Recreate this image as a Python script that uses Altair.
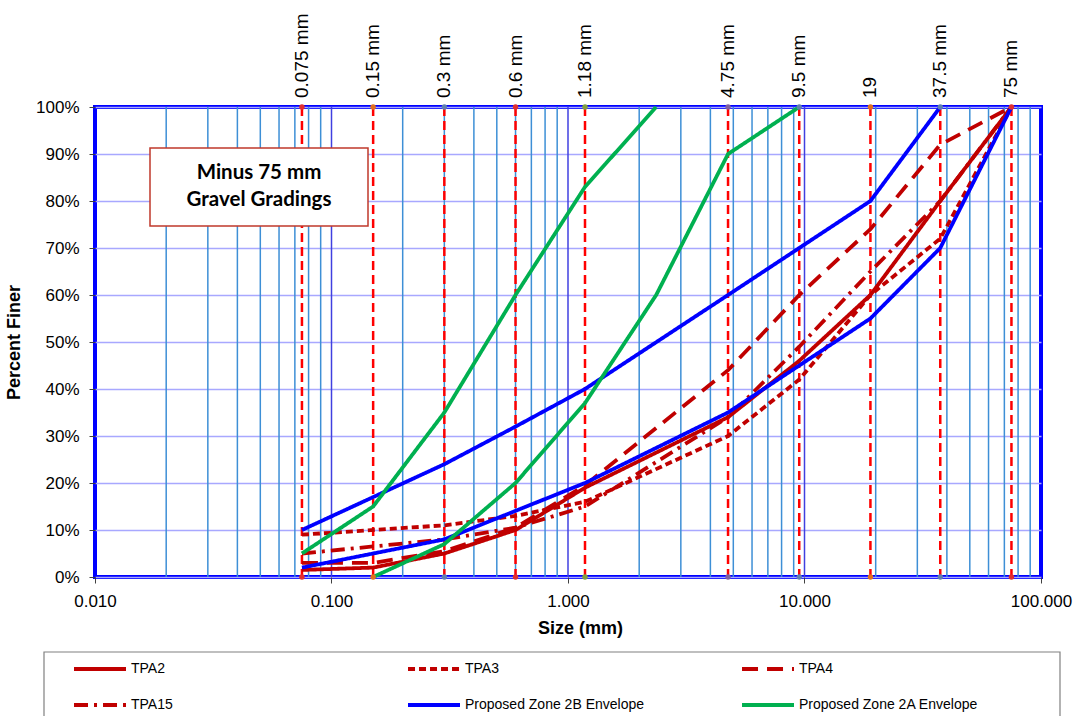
import altair as alt
import pandas as pd

# Sieve sizes (mm) marked with red dashed verticals and labelled along the top
sieve_sizes = [0.075, 0.15, 0.3, 0.6, 1.18, 4.75, 9.5, 19, 37.5, 75]
sieve_labels = ["0.075 mm", "0.15 mm", "0.3 mm", "0.6 mm", "1.18 mm",
                "4.75 mm", "9.5 mm", "19", "37.5 mm", "75 mm"]
marker_colors = ["#e03030", "#e07020", "#6080b0", "#e03030", "#80a040",
                 "#8060a0", "#6080b0", "#e07020", "#6080b0", "#e03030"]

# Log-grid positions
minor_grid = [0.02, 0.03, 0.04, 0.05, 0.06, 0.07, 0.08, 0.09,
              0.2, 0.3, 0.4, 0.5, 0.6, 0.7, 0.8, 0.9,
              2, 3, 4, 5, 6, 7, 8, 9,
              20, 30, 40, 50, 60, 70, 80, 90]
major_grid = [0.1, 1, 10]

# Test gradings (percent finer)
tpa2_size = [0.075, 0.15, 0.3, 0.6, 1.18, 4.75, 9.5, 19, 37.5, 75]
tpa2_pct = [1.5, 2, 5, 10, 19, 34, 46, 60, 80, 100]
tpa3_size = [0.075, 0.3, 0.6, 1.18, 4.75, 9.5, 19, 37.5, 75]
tpa3_pct = [9, 11, 13, 16, 30, 42, 60, 72, 100]
tpa4_size = [0.075, 0.15, 0.3, 0.6, 1.18, 4.75, 9.5, 19, 37.5, 75]
tpa4_pct = [3, 3, 5.5, 10.5, 19.5, 44, 60, 74, 92, 100]
tpa15_size = [0.075, 0.15, 0.3, 0.6, 1.18, 4.75, 9.5, 19, 37.5, 75]
tpa15_pct = [5, 6.5, 8, 10.5, 15, 34, 49, 65, 80, 100]

# Grading envelopes (upper and lower limits)
zone2b_upper_size = [0.075, 0.3, 0.6, 1.18, 4.75, 9.5, 19, 37.5]
zone2b_upper_pct = [10, 24, 32, 40, 60, 70, 80, 100]
zone2b_lower_size = [0.075, 0.3, 1.18, 4.75, 9.5, 19, 37.5, 75]
zone2b_lower_pct = [2, 8, 20, 35, 45, 55, 70, 100]
zone2a_upper_size = [0.075, 0.15, 0.3, 0.6, 1.18, 2.36]
zone2a_upper_pct = [5, 15, 35, 60, 83, 100]
zone2a_lower_size = [0.15, 0.3, 0.6, 1.18, 2.36, 4.75, 9.5]
zone2a_lower_pct = [0, 7, 20, 37, 60, 90, 100]

# Legend entries fill column by column: (TPA2, TPA15), (TPA3, 2B), (TPA4, 2A)
series_names = ["TPA2", "TPA15", "TPA3", "Proposed Zone 2B Envelope",
                "TPA4", "Proposed Zone 2A Envelope"]
series_colors = ["#c00000", "#c00000", "#c00000", "#0000ff", "#c00000", "#00b050"]
series_dashes = [[1, 0], [14, 6, 3, 6], [7, 4], [1, 0], [16, 9], [1, 0]]

curves = [
    ("TPA2", "a", tpa2_size, tpa2_pct),
    ("TPA3", "a", tpa3_size, tpa3_pct),
    ("TPA4", "a", tpa4_size, tpa4_pct),
    ("TPA15", "a", tpa15_size, tpa15_pct),
    ("Proposed Zone 2B Envelope", "upper", zone2b_upper_size, zone2b_upper_pct),
    ("Proposed Zone 2B Envelope", "lower", zone2b_lower_size, zone2b_lower_pct),
    ("Proposed Zone 2A Envelope", "upper", zone2a_upper_size, zone2a_upper_pct),
    ("Proposed Zone 2A Envelope", "lower", zone2a_lower_size, zone2a_lower_pct),
]
rows = []
for name, bound, sizes, pcts in curves:
    for s, p in zip(sizes, pcts):
        rows.append({"series": name, "bound": bound, "size": s, "pct": p})
curve_df = pd.DataFrame(rows)

sieve_df = pd.DataFrame({"size": sieve_sizes, "label": sieve_labels, "mcolor": marker_colors})
marker_df = pd.concat([sieve_df.assign(pct=0), sieve_df.assign(pct=100)])

W, H = 946, 470
FONT = "Liberation Sans"

xscale = alt.Scale(type="log", domain=[0.01, 100], nice=False)
yscale = alt.Scale(domain=[0, 100], nice=False)

x_axis = alt.Axis(values=[0.01, 0.1, 1, 10, 100], format=".3f", grid=False, domain=False,
                  tickSize=6, tickColor="#404040", labelPadding=10, labelFontSize=17,
                  labelFont=FONT, labelColor="#000000", labelFlush=False,
                  title="Size (mm)", titleFont=FONT, titleFontSize=18, titleFontWeight="bold",
                  titlePadding=10, titleColor="#000000", titleX=485)
y_axis = alt.Axis(values=list(range(0, 101, 10)), labelExpr="datum.value + '%'",
                  grid=True, gridColor="#a8a8ff", gridWidth=1.5, domain=False,
                  tickSize=6, tickColor="#404040", labelPadding=10, labelFontSize=17,
                  labelFont=FONT, labelColor="#000000",
                  title="Percent Finer", titleFont=FONT, titleFontSize=18,
                  titleFontWeight="bold", titlePadding=12, titleColor="#000000")


def xenc():
    return alt.X("size:Q", scale=xscale, axis=x_axis, title="Size (mm)")


def yenc():
    return alt.Y("pct:Q", scale=yscale, axis=y_axis, title="Percent Finer")


minor_rules = alt.Chart(pd.DataFrame({"size": minor_grid})).mark_rule(
    color="#3d8fd6", strokeWidth=1.5
).encode(x=xenc(), y=alt.value(0), y2=alt.value(H))

major_rules = alt.Chart(pd.DataFrame({"size": major_grid})).mark_rule(
    color="#4040e0", strokeWidth=1.5
).encode(x=xenc(), y=alt.value(0), y2=alt.value(H))

sieve_rules = alt.Chart(sieve_df).mark_rule(
    color="#ff0000", strokeWidth=2.5, strokeDash=[9, 5]
).encode(x=xenc(), y=alt.value(0), y2=alt.value(H))

lines = alt.Chart(curve_df).mark_line(strokeWidth=3.8).encode(
    x=xenc(),
    y=yenc(),
    color=alt.Color("series:N", scale=alt.Scale(domain=series_names, range=series_colors),
                    legend=alt.Legend(title=None)),
    strokeDash=alt.StrokeDash("series:N", scale=alt.Scale(domain=series_names, range=series_dashes),
                              legend=alt.Legend(title=None)),
    detail="bound:N",
    order="size:Q",
)

markers = alt.Chart(marker_df).mark_circle(size=30, opacity=1).encode(
    x=xenc(),
    y=yenc(),
    color=alt.Color("mcolor:N", scale=None),
)

sieve_text = alt.Chart(sieve_df).mark_text(
    angle=270, align="left", baseline="middle", font=FONT, fontSize=19, color="#000000"
).encode(x=xenc(), y=alt.value(-9), text="label:N")

note_box = alt.Chart(pd.DataFrame({"k": [0]})).mark_rect(
    fill="#ffffff", stroke="#c0392b", strokeWidth=1.5
).encode(x=alt.value(55), x2=alt.value(273), y=alt.value(41), y2=alt.value(119))

note_text = alt.Chart(pd.DataFrame({"k": [0]})).mark_text(
    text=["Minus 75 mm", "Gravel Gradings"], font="Lato", fontSize=20.5, fontWeight="bold",
    lineHeight=27, align="center", baseline="middle", color="#000000"
).encode(x=alt.value(164), y=alt.value(66))

legend_frame = alt.Chart(pd.DataFrame({"k": [0]})).mark_rect(
    fill="#ffffff", fillOpacity=0, stroke="#808080", strokeWidth=1.2
).encode(x=alt.value(-51), x2=alt.value(965), y=alt.value(545), y2=alt.value(660))

chart = alt.layer(
    minor_rules, major_rules, sieve_rules, lines, markers,
    note_box, note_text, legend_frame, sieve_text,
).properties(
    width=W, height=H,
    padding={"left": 95, "top": 107, "right": 35, "bottom": 139},
    autosize=alt.AutoSizeParams(type="none"),
    background="#ffffff",
).configure_view(
    stroke="#0000ff", strokeWidth=4
).configure_legend(
    orient="none", legendX=-23, legendY=534, columns=3, gridAlign="all",
    columnPadding=89, rowPadding=-16, padding=0,
    symbolType="stroke", symbolSize=2700, symbolStrokeWidth=4,
    labelFont=FONT, labelFontSize=14, labelColor="#000000", labelOffset=3,
    labelLimit=400,
)

chart.save("out.html", embed_options={"renderer": "svg", "actions": False})
